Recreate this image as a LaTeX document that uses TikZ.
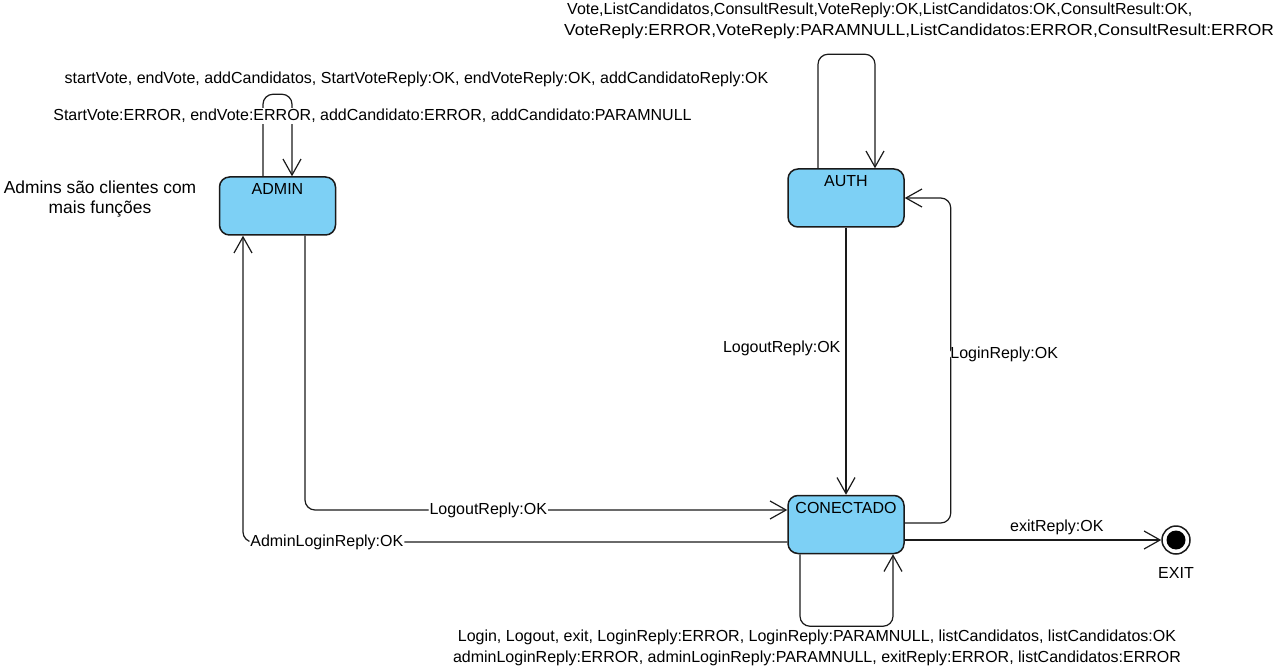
\documentclass[tikz,border=0pt]{standalone}
\usepackage{fontspec}
\setmainfont{Liberation Sans}
\usepackage{xcolor}
\usepackage{graphicx}
\usetikzlibrary{arrows.meta, positioning}
\definecolor{st-blue}{HTML}{7DD0F5}
\definecolor{st-line}{HTML}{1A1A1A}

\begin{document}
\begin{tikzpicture}[
			x=1pt, y=-1pt,
			font=\fontsize{16}{21}\selectfont,
			state/.style={
				draw=st-line, fill=st-blue, line width=1.5pt,
				rounded corners=10pt, minimum width=116pt,
				inner xsep=2pt, inner ysep=5pt,
				text height=13pt, text depth=35pt
			},
			final/.style={
				circle, draw=st-line, line width=1.5pt, minimum size=28pt,
				path picture={\fill[black] (path picture bounding box.center) circle (9.5pt);}
			},
			edge/.style={
				draw=st-line, line width=1.2pt, rounded corners=10pt,
				-{Straight Barb[length=16pt,width=18pt]}
			},
			lbl/.style={fill=white, inner sep=1pt},
			note/.style={fill=white, inner sep=1pt}
			]
			\useasboundingbox (0,0) rectangle (1273,668);

			% estados
			\node[state] (admin) at (277.5,206) {ADMIN};
			\node[state] (auth) at (846,198) {AUTH};
			\node[state] (conectado) at (846,524.5) {CONECTADO};
			\node[final] (exit) at (1176,540) {};
			\node[below=9pt of exit] (exitname) {EXIT};

			% transicoes
			\draw[edge] ([xshift=-14.5pt]admin.north) -- ++(0,-82) -- ++(29,0) -- ([xshift=14.5pt]admin.north);
			\draw[edge] ([xshift=27.5pt]admin.south) |- node[lbl, pos=0.69] {LogoutReply:OK} ([yshift=14.5pt]conectado.west);
			\draw[edge] ([yshift=-17.5pt]conectado.west) -| node[lbl, pos=0.423] {AdminLoginReply:OK} ([xshift=-34.5pt]admin.south);
			\draw[edge] (auth.south) -- node[lbl, left=4pt, pos=0.45] {LogoutReply:OK} (conectado.north);
			\draw[edge] ([yshift=1.5pt]conectado.east) -- ++(46,0) |- node[lbl, anchor=west, pos=0.26, xshift=-2pt] {LoginReply:OK} (auth.east);
			\draw[edge] ([xshift=-28pt]auth.north) -- ++(0,-114) -- ++(57,0) -- ([xshift=29pt]auth.north);
			\draw[edge] ([xshift=-46pt]conectado.south) -- ++(0,72) -- ++(93,0) -- ([xshift=47pt]conectado.south);
			\draw[edge] ([yshift=-15.5pt]conectado.east) -- node[lbl, above=4pt, pos=0.593] {exitReply:OK} (exit);

			% textos
			\node[note] (adminops) at (416.5,79) {startVote, endVote, addCandidatos, StartVoteReply:OK, endVoteReply:OK, addCandidatoReply:OK};
			\node[note] (adminerr) at (372.5,116) {StartVote:ERROR, endVote:ERROR, addCandidato:ERROR, addCandidato:PARAMNULL};
			\node[note, align=center, font=\fontsize{17.4}{20}\selectfont] (adminnote) at (100,199) {Admins são clientes com\\mais funções};
			\node[note, align=left, anchor=west] (authops) at (563,21) {\hspace{3pt}Vote,ListCandidatos,ConsultResult,VoteReply:OK,ListCandidatos:OK,ConsultResult:OK,\\\scalebox{1.088}[1]{VoteReply:ERROR,VoteReply:PARAMNULL,ListCandidatos:ERROR,ConsultResult:ERROR}};
			\node[note, align=center] (conops) at (817,647.5) {Login, Logout, exit, LoginReply:ERROR, LoginReply:PARAMNULL, listCandidatos, listCandidatos:OK\\adminLoginReply:ERROR, adminLoginReply:PARAMNULL, exitReply:ERROR, listCandidatos:ERROR};
		\end{tikzpicture}
\end{document}
